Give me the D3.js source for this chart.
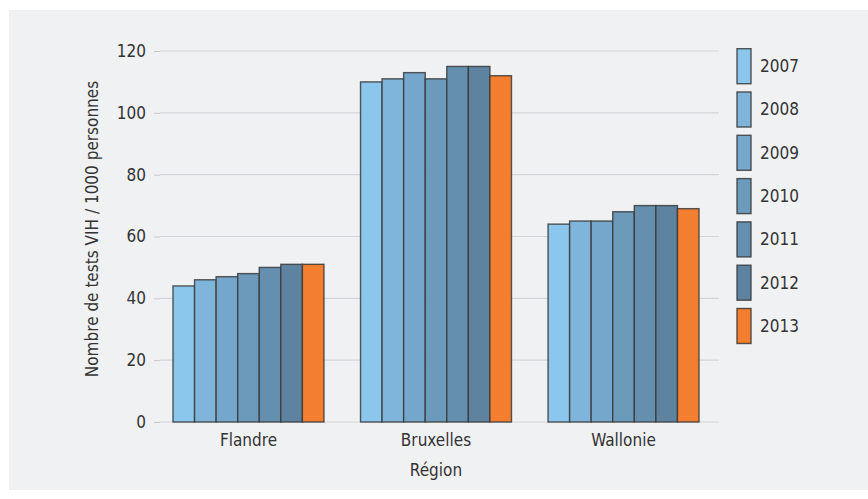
<!DOCTYPE html>
<html><head><meta charset="utf-8">
<script src="https://cdn.jsdelivr.net/npm/d3@7"></script>
<style>
body{margin:0;background:#fff;}
svg text{font-family:"Liberation Sans Narrow","DejaVu Sans Condensed","Open Sans",sans-serif;fill:#333;}
</style></head>
<body><svg id="c" width="868" height="499"></svg>
<script>
const regions = ["Flandre","Bruxelles","Wallonie"];
const years = ["2007","2008","2009","2010","2011","2012","2013"];
const v2007 = [44,110,64];
const v2008 = [46,111,65];
const v2009 = [47,113,65];
const v2010 = [48,111,68];
const v2011 = [50,115,70];
const v2012 = [51,115,70];
const v2013 = [51,112,69];
const yTicks = [0,20,40,60,80,100,120];
const colors = ["#8bc7ec","#7fb5da","#74a7cb","#6c9abb","#658fae","#5e83a0","#f47e2f"];

const series = [v2007,v2008,v2009,v2010,v2011,v2012,v2013];
const svg = d3.select("#c");
svg.append("rect").attr("x",9).attr("y",10).attr("width",859).attr("height",480).attr("fill","#f0f1f3");

const L=160,R=719,T=51,B=422;
const y = d3.scaleLinear().domain([0,120]).range([B,T]);
const x0 = d3.scaleBand().domain(regions).range([L,712]).paddingInner(0.195).paddingOuter(0.0693);
const x1 = d3.scaleBand().domain(years).range([0,x0.bandwidth()]);

const g = svg.append("g");
g.selectAll("line.grid").data(yTicks).join("line").attr("class","grid")
 .attr("x1",L).attr("x2",R).attr("y1",d=>y(d)).attr("y2",d=>y(d))
 .attr("stroke","#d4d5d8").attr("stroke-width",1.2);

const yAxis = g.append("g").attr("transform",`translate(${L},0)`)
 .call(d3.axisLeft(y).tickValues(yTicks).tickSize(6).tickPadding(8));
yAxis.select(".domain").remove();
yAxis.selectAll(".tick line").attr("stroke","#c8c9cc");
yAxis.selectAll(".tick text").attr("font-size",17).style("fill","#333");

regions.forEach((r,i)=>{
  const gr = g.append("g").attr("transform",`translate(${x0(r)},0)`);
  gr.selectAll("rect").data(years).join("rect")
   .attr("x",d=>x1(d)).attr("width",x1.bandwidth())
   .attr("y",(d,j)=>y(series[j][i])).attr("height",(d,j)=>B-y(series[j][i]))
   .attr("fill",(d,j)=>colors[j]).attr("stroke","#3a3a3a").attr("stroke-opacity",0.85).attr("stroke-width",1.4);
});

const xAxis = g.append("g").attr("transform",`translate(0,${B})`)
 .call(d3.axisBottom(x0).tickSize(0).tickPadding(12));
xAxis.select(".domain").remove();
xAxis.selectAll(".tick text").attr("font-size",17).style("fill","#333");

svg.append("text").attr("x",436).attr("y",476).attr("text-anchor","middle").attr("font-size",17).text("Région");
svg.append("text").attr("transform",`translate(98,229) rotate(-90)`).attr("text-anchor","middle").attr("font-size",17)
 .text("Nombre de tests VIH / 1000 personnes");

const lg = svg.append("g");
years.forEach((yr,j)=>{
  const ty = 48.7 + j*43.3;
  lg.append("rect").attr("x",737).attr("y",ty).attr("width",14).attr("height",35)
   .attr("fill",colors[j]).attr("stroke","#3a3a3a").attr("stroke-opacity",0.85).attr("stroke-width",1.4);
  lg.append("text").attr("x",760).attr("y",ty+17.5).attr("dy","0.35em").attr("font-size",17).text(yr);
});
</script></body></html>
